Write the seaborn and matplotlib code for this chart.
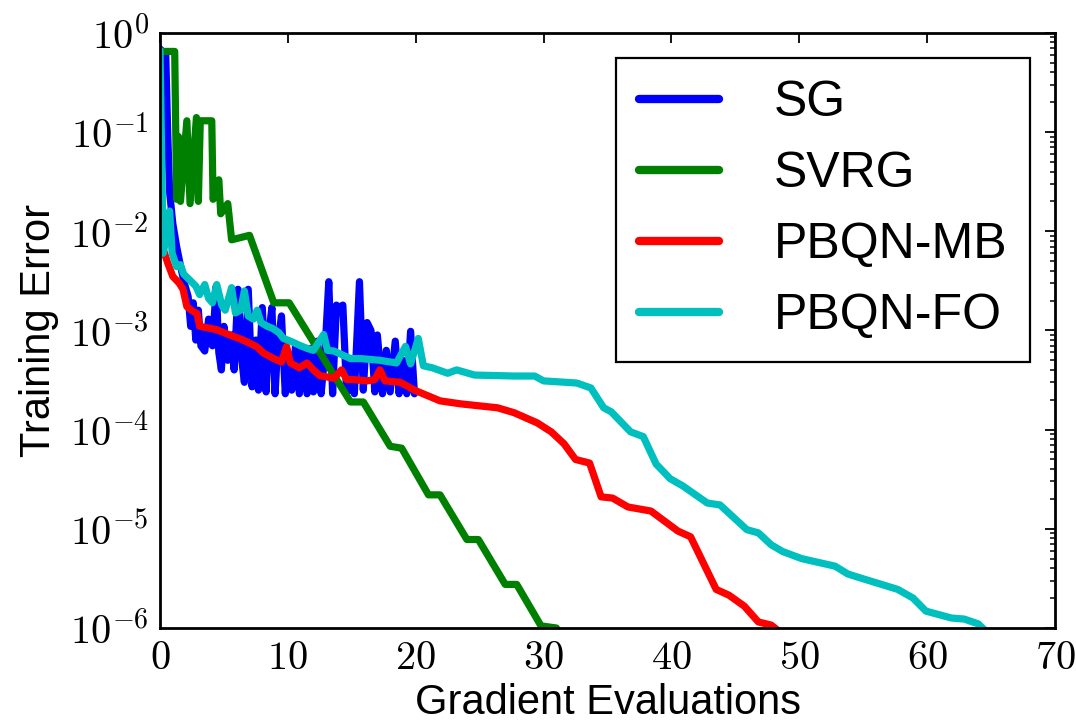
import numpy as np
import pandas as pd
import matplotlib
matplotlib.use("Agg")
import matplotlib.pyplot as plt
from matplotlib.ticker import FixedLocator, FuncFormatter, LogLocator, NullFormatter
import seaborn as sns

# ---- data: training error vs. gradient evaluations ----
sg_x = [0, 0.45, 0.6, 0.75, 1.0, 1.3, 1.6, 1.9, 2.2, 2.4, 2.6, 2.8, 3.0, 3.2, 3.5, 3.8,
        4.1, 4.4, 4.6, 4.8, 5.0, 5.3, 5.6, 5.8, 6.1, 6.4, 6.6, 6.9, 7.2, 7.5, 7.7, 8.0,
        8.3, 8.5, 8.75, 9.0, 9.2, 9.5, 9.8, 10.0, 10.3, 10.6, 10.9, 11.2, 11.5, 11.8,
        12.0, 12.3, 12.6, 12.9, 13.2, 13.5, 13.8, 14.0, 14.3, 14.6, 14.9, 15.2, 15.6,
        15.9, 16.2, 16.5, 16.8, 17.0, 17.4, 17.7, 18.0, 18.4, 18.7, 19.0, 19.3, 19.6, 19.9]
sg_y = [0.69, 0.6, 0.1, 0.025, 0.012, 0.007, 0.0045, 0.003, 0.0022, 0.0011, 0.0019,
        0.0008, 0.0016, 0.0007, 0.00062, 0.0013, 0.0007, 0.0028, 0.0006, 0.0004, 0.0011,
        0.0005, 0.0009, 0.0004, 0.0026, 0.0005, 0.0003, 0.0026, 0.00027, 0.0008, 0.00025,
        0.0017, 0.00024, 0.0009, 0.0017, 0.00023, 0.0007, 0.0014, 0.00023, 0.0006, 0.00025,
        0.0007, 0.00023, 0.00066, 0.00023, 0.00066, 0.00024, 0.00078, 0.00023, 0.0006,
        0.0031, 0.00023, 0.0018, 0.0017, 0.0018, 0.00023, 0.0005, 0.00023, 0.0031,
        0.00025, 0.0012, 0.001, 0.00024, 0.0009, 0.00023, 0.00063, 0.00024, 0.00078,
        0.00023, 0.0005, 0.00023, 0.00098, 0.00023]

svrg_x = [0, 1.15, 1.3, 1.45, 1.6, 2.1, 2.35, 2.85, 3.0, 3.15, 4.05, 4.15, 4.6, 4.75,
          5.3, 5.6, 7.0, 8.9, 10.1, 14.9, 15.9, 18.0, 18.9, 21.0, 21.9, 24.0, 24.9,
          27.0, 27.9, 29.8, 31.0]
svrg_y = [0.65, 0.65, 0.021, 0.09, 0.02, 0.13, 0.019, 0.14, 0.02, 0.13, 0.13, 0.021,
          0.033, 0.015, 0.019, 0.0082, 0.0091, 0.0019, 0.0019, 1.9e-4, 1.9e-4, 6.8e-5,
          6.5e-5, 2.2e-5, 2.2e-5, 7.8e-6, 7.8e-6, 2.75e-6, 2.75e-6, 1.05e-6, 1.0e-6]

mb_x = [0, 0.3, 0.6, 1.0, 1.5, 1.8, 2.1, 2.5, 2.9, 3.1, 3.6, 4.4, 5.0, 5.75, 6.4, 7.05,
        7.6, 8.1, 8.9, 9.5, 9.9, 10.2, 10.9, 11.5, 12.0, 12.5, 13.6, 14.2, 14.6, 15.1,
        16.2, 16.8, 17.2, 17.6, 18.8, 19.9, 21.9, 23.5, 26.4, 27.7, 29.5, 30.6, 31.6,
        32.5, 33.6, 34.5, 35.4, 36.6, 38.4, 40.5, 41.5, 43.5, 44.5, 45.7, 46.8, 47.8, 48.3]
mb_y = [7.9e-3, 6.3e-3, 4.8e-3, 3.5e-3, 3.0e-3, 2.6e-3, 1.74e-3, 1.58e-3, 1.48e-3,
        1.10e-3, 1.07e-3, 1.02e-3, 9.5e-4, 8.7e-4, 8.1e-4, 7.4e-4, 6.8e-4, 5.9e-4,
        5.2e-4, 4.8e-4, 6.9e-4, 4.7e-4, 4.2e-4, 4.7e-4, 4.0e-4, 3.5e-4, 3.3e-4, 4.0e-4,
        3.2e-4, 3.2e-4, 3.1e-4, 3.2e-4, 4.0e-4, 3.1e-4, 3.0e-4, 2.5e-4, 1.95e-4, 1.82e-4,
        1.66e-4, 1.48e-4, 1.17e-4, 9.5e-5, 7.2e-5, 5.0e-5, 4.6e-5, 2.1e-5, 2.04e-5,
        1.66e-5, 1.51e-5, 9.5e-6, 8.3e-6, 2.45e-6, 2.14e-6, 1.66e-6, 1.15e-6, 1.07e-6,
        9.5e-7]

fo_x = [0, 0.25, 0.5, 0.75, 0.95, 1.3, 1.6, 1.85, 2.35, 2.8, 3.1, 3.5, 3.8, 4.1, 4.44,
        4.83, 5.1, 5.6, 5.9, 6.3, 6.6, 6.9, 7.3, 7.6, 7.9, 8.4, 8.8, 9.3, 9.66, 10.2,
        11.0, 11.5, 12.0, 12.8, 13.1, 13.6, 14.9, 15.7, 17.2, 18.5, 19.2, 19.6, 20.2,
        20.6, 21.3, 22.5, 23.2, 24.6, 27.7, 29.3, 30.0, 32.6, 33.7, 34.7, 35.3, 36.8,
        37.8, 38.8, 39.9, 40.9, 42.8, 43.8, 45.9, 46.8, 47.8, 48.7, 50.2, 52.8, 53.8,
        54.9, 57.7, 58.9, 59.9, 61.9, 62.9, 64.0, 64.5]
fo_y = [0.67, 0.006, 0.009, 0.016, 0.006, 0.0044, 0.0046, 0.0037, 0.0032, 0.0028,
        0.0023, 0.0029, 0.0021, 0.0019, 0.0029, 0.0018, 0.0016, 0.0027, 0.0015, 0.0016,
        0.0025, 0.0014, 0.0013, 0.0016, 0.0012, 0.0011, 0.00105, 0.00095, 0.00083,
        0.00078, 0.0007, 0.00066, 0.00063, 0.00091, 0.00063, 0.00062, 0.00052, 0.00052,
        0.0005, 0.00047, 0.00069, 0.00046, 0.00083, 0.00044, 0.00042, 0.00037, 0.0004,
        0.000355, 0.000347, 0.000347, 0.00031, 0.000295, 0.000263, 0.000166, 0.000151,
        9.5e-5, 8.5e-5, 4.5e-5, 3.2e-5, 2.7e-5, 1.82e-5, 1.74e-5, 9.8e-6, 9.1e-6, 6.9e-6,
        5.9e-6, 5.0e-6, 4.2e-6, 3.5e-6, 3.16e-6, 2.45e-6, 2.0e-6, 1.48e-6, 1.26e-6,
        1.23e-6, 1.1e-6, 9.5e-7]

methods = ["SG", "SVRG", "PBQN-MB", "PBQN-FO"]
colors = {"SG": (0, 0, 1), "SVRG": (0, 0.5, 0), "PBQN-MB": (1, 0, 0),
          "PBQN-FO": (0, 0.75, 0.75)}
series = {"SG": (sg_x, sg_y), "SVRG": (svrg_x, svrg_y),
          "PBQN-MB": (mb_x, mb_y), "PBQN-FO": (fo_x, fo_y)}

df = pd.concat(
    [pd.DataFrame({"evals": x, "err": y, "method": m}) for m, (x, y) in series.items()],
    ignore_index=True,
)

# ---- style ----
sns.set_style("white")
plt.rcParams["font.family"] = ["Liberation Sans", "DejaVu Sans"]
plt.rcParams["mathtext.fontset"] = "cm"
for key in ("text.color", "axes.labelcolor", "xtick.color", "ytick.color",
            "axes.edgecolor"):
    plt.rcParams[key] = "black"

fig = plt.figure(figsize=(10.76, 7.26), dpi=100)
ax = fig.add_axes([0.1487, 0.135, 0.8318, 0.8197])

for m in methods:
    sns.lineplot(data=df[df["method"] == m], x="evals", y="err", color=colors[m],
                 lw=5.2, estimator=None, sort=False, label=m, ax=ax,
                 solid_joinstyle="round", solid_capstyle="round")

ax.set_yscale("log")
ax.set_xlim(0, 70)
ax.set_ylim(1e-6, 1)

ax.xaxis.set_major_locator(FixedLocator(np.arange(0, 71, 10)))
ax.xaxis.set_major_formatter(FuncFormatter(lambda v, p: r"$%d$" % round(v)))
ax.yaxis.set_major_locator(LogLocator(base=10, numticks=10))
ax.yaxis.set_minor_locator(LogLocator(base=10, subs=np.arange(2, 10), numticks=20))
ax.yaxis.set_minor_formatter(NullFormatter())
ax.yaxis.set_major_formatter(FuncFormatter(lambda v, p: r"$10^{%d}$" % round(np.log10(v))))

ax.tick_params(which="both", direction="in", top=True, right=True, color="black",
               labelcolor="black")
ax.tick_params(which="major", length=7.5, width=1.3, labelsize=29, pad=8)
ax.tick_params(which="minor", length=3.8, width=1.1)

for s in ax.spines.values():
    s.set_linewidth(2.0)
    s.set_color("black")

ax.set_xlabel("Gradient Evaluations", fontsize=30, labelpad=4, color="black")
ax.set_ylabel("Training Error", fontsize=30, labelpad=8, color="black")

leg = ax.legend(loc="upper right", fontsize=36, frameon=True, fancybox=False,
                edgecolor="black", framealpha=1, handlelength=1.6, handletextpad=1.1,
                labelspacing=0.5, borderpad=0.45, borderaxespad=0.5)
leg.get_frame().set_linewidth(1.6)
for txt in leg.get_texts():
    txt.set_color("black")
for line in leg.get_lines():
    line.set_linewidth(6)

fig.savefig("out.png", dpi=100)
